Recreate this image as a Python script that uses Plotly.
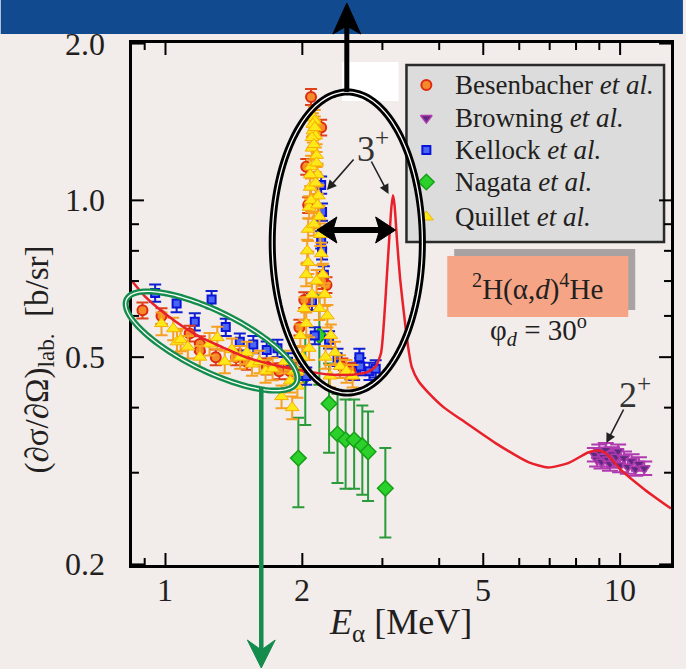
import math
import plotly.graph_objects as go

# ---------------- data ----------------
# Theory curve: E_alpha [MeV] vs lab cross section [b/sr]
curve_E = [0.844, 0.90, 1.00, 1.10, 1.20, 1.35, 1.50, 1.70, 1.90, 2.10, 2.30, 2.50,
           2.65, 2.78, 2.90, 2.98, 3.03, 3.07, 3.11, 3.14, 3.165, 3.19, 3.23, 3.28,
           3.345, 3.41, 3.48, 3.60, 3.79, 4.10, 4.48, 5.32, 6.30, 6.94, 7.69, 8.50,
           8.90, 9.25, 9.60, 10.03, 11.35, 12.94]
curve_xs = [0.70, 0.655, 0.605, 0.57, 0.545, 0.52, 0.50, 0.485, 0.475, 0.468, 0.463, 0.462,
            0.464, 0.468, 0.48, 0.51, 0.60, 0.72, 0.86, 0.97, 1.023, 0.98, 0.84, 0.71,
            0.608, 0.53, 0.479, 0.45, 0.427, 0.40, 0.379, 0.342, 0.314, 0.307, 0.313, 0.328,
            0.331, 0.328, 0.318, 0.304, 0.278, 0.256]

besen_E = [0.89, 0.98, 1.13, 1.19, 1.19, 1.29, 1.43, 1.51, 1.67, 1.78, 1.88,
           2.09, 2.20, 2.04, 2.06, 2.26, 2.02, 1.97, 2.21, 2.45, 2.55]
besen_xs = [0.615, 0.60, 0.555, 0.53, 0.515, 0.50, 0.50, 0.49, 0.48, 0.47, 0.47,
            1.58, 1.38, 1.16, 0.98, 0.688, 0.644, 0.57, 0.70, 0.48, 0.47]
besen_err_pct = 3.5

brown_E = [8.8, 8.9, 9.0, 9.1, 9.2, 9.3, 9.4, 9.5, 9.6, 9.7, 9.8, 9.9, 10.0, 10.2,
           10.4, 10.6, 10.8, 11.0, 11.3]
brown_xs = [0.325, 0.318, 0.330, 0.315, 0.322, 0.332, 0.318, 0.312, 0.326, 0.316, 0.322,
            0.330, 0.310, 0.320, 0.308, 0.316, 0.305, 0.312, 0.306]
brown_err_pct = 3.0

kell_E = [0.949, 1.058, 1.16, 1.263, 1.357, 1.457, 1.56, 1.67, 1.763, 1.86, 1.95,
          2.20, 2.21, 2.20, 2.21, 2.10, 2.23, 2.29, 2.39, 2.04, 2.13,
          2.60, 2.67, 2.68, 2.81, 2.90]
kell_xs = [0.664, 0.634, 0.585, 0.645, 0.571, 0.535, 0.529, 0.516, 0.52, 0.49, 0.47,
           1.07, 0.95, 0.84, 0.80, 0.64, 0.72, 0.54, 0.50, 0.46, 0.55,
           0.47, 0.50, 0.48, 0.47, 0.475]
kell_err_pct = 3.8

naga_E = [1.96, 2.03, 2.18, 2.29, 2.39, 2.49, 2.60, 2.71, 2.79, 3.045]
naga_xs = [0.32, 0.46, 0.55, 0.407, 0.356, 0.347, 0.347, 0.338, 0.329, 0.28]
naga_err_pct = 19.5

quil_E = [0.98, 1.04, 1.06, 1.08, 1.12, 1.19, 1.25, 1.30, 1.35, 1.40, 1.46, 1.51,
          1.55, 1.61, 1.66, 1.72, 1.80, 1.83, 1.88, 1.92, 1.95,
          2.02, 2.04, 2.05, 2.06, 2.07, 2.08, 2.09, 2.10, 2.11, 2.12,
          2.13, 2.14, 2.15, 2.16, 2.17, 2.18, 2.19, 2.20, 2.22, 2.24, 2.27, 2.31,
          2.36, 2.42, 2.50, 2.58,
          2.08, 2.10, 2.11, 2.13, 2.15, 2.09, 2.12, 2.06, 2.15, 2.10, 2.04, 2.18,
          1.98, 2.00, 2.07, 1.95, 2.12, 2.14, 2.16, 1.90, 2.25, 2.30]
quil_xs = [0.58, 0.567, 0.535, 0.54, 0.523, 0.50, 0.53, 0.545, 0.49, 0.517, 0.50, 0.51,
           0.485, 0.49, 0.47, 0.475, 0.42, 0.49, 0.45, 0.47, 0.44,
           0.62, 0.72, 0.80, 0.88, 0.97, 1.06, 1.16, 1.26, 1.36, 1.44,
           1.42, 1.33, 1.22, 1.12, 1.02, 0.93, 0.86, 0.79, 0.72, 0.66, 0.60, 0.55,
           0.51, 0.48, 0.47, 0.46,
           1.12, 1.32, 1.40, 1.38, 1.18, 1.00, 0.90, 0.76, 0.70, 0.66, 0.58, 0.62,
           0.55, 0.50, 0.52, 0.47, 1.28, 1.08, 0.98, 0.40, 0.50, 0.46]
quil_err_pct = 5.0

legend_names = ["Besenbacher", "Browning", "Kellock", "Nagata", "Quillet"]

x_ticks = [1, 2, 5, 10]
x_tick_text = ["1", "2", "5", "10"]
x_minor = [0.9, 3, 4, 6, 7, 8, 9]
y_ticks = [0.2, 0.5, 1.0, 2.0]
y_tick_text = ["0.2", "0.5", "1.0", "2.0"]
y_minor = [0.3, 0.4, 0.6, 0.7, 0.8, 0.9]

X_RANGE = [math.log10(0.844), math.log10(12.94)]
Y_RANGE = [math.log10(0.1995), math.log10(2.005)]

# ---------------- page geometry ----------------
W, H = 686, 669
L, R, T, B = 132, 674, 43, 565          # plot frame in pixels
BG = "#F2ECEB"
SERIF = "Liberation Serif"
INK = "#231F20"
MAJOR_LEN, MINOR_LEN = 12, 7


def fx(px):
    return (px - L) / (R - L)


def fy(py):
    return (B - py) / (B - T)


def data_x(px):
    return 10 ** (X_RANGE[0] + fx(px) * (X_RANGE[1] - X_RANGE[0]))


def data_y(py):
    return 10 ** (Y_RANGE[0] + fy(py) * (Y_RANGE[1] - Y_RANGE[0]))


def poly_path(pts):
    return "M " + " L ".join(f"{fx(x):.5f},{fy(y):.5f}" for x, y in pts) + " Z"


def ellipse_path(cx, cy, a, b, ang_deg, n=160):
    th = math.radians(ang_deg)
    pts = []
    for i in range(n):
        t = 2 * math.pi * i / n
        x = cx + a * math.cos(t) * math.cos(th) - b * math.sin(t) * math.sin(th)
        y = cy + a * math.cos(t) * math.sin(th) + b * math.sin(t) * math.cos(th)
        pts.append((x, y))
    return poly_path(pts)


fig = go.Figure()


def err(pct, color, w=5):
    return dict(type="percent", value=pct, color=color, thickness=2, width=w)


STY_BES = dict(symbol="circle", size=10, color="#F58A2A", line=dict(color="#DD2A10", width=2))
STY_BRO = dict(symbol="triangle-down", size=10, color="#5E2A7E", line=dict(color="#B03AB0", width=1.5))
STY_KEL = dict(symbol="square", size=8, color="#4A66F2", line=dict(color="#0A14D8", width=2))
STY_NAG = dict(symbol="diamond", size=12, color="#2BD02B", line=dict(color="#17A017", width=1.5))
STY_QUI = dict(symbol="triangle-up", size=12, color="#FFE81A", line=dict(color="#F5B000", width=1))

fig.add_trace(go.Scatter(x=naga_E, y=naga_xs, mode="markers", name="Nagata",
                         error_y=err(naga_err_pct, "#2A9A3A", 6), marker=STY_NAG))
fig.add_trace(go.Scatter(x=kell_E, y=kell_xs, mode="markers", name="Kellock",
                         error_y=err(kell_err_pct, "#1020D0", 6), marker=STY_KEL))
fig.add_trace(go.Scatter(x=besen_E, y=besen_xs, mode="markers", name="Besenbacher",
                         error_y=err(besen_err_pct, "#E0401A", 6), marker=STY_BES))
fig.add_trace(go.Scatter(x=brown_E, y=brown_xs, mode="markers", name="Browning",
                         error_y=err(brown_err_pct, "#B03AB0", 8), marker=STY_BRO))
fig.add_trace(go.Scatter(x=quil_E, y=quil_xs, mode="markers", name="Quillet",
                         error_y=err(quil_err_pct, "#F5A020", 6), marker=STY_QUI))
fig.add_trace(go.Scatter(x=curve_E, y=curve_xs, mode="lines", name="theory",
                         line=dict(color="#E8202A", width=2.5, shape="spline", smoothing=0.6)))

# tick marks on all four sides, drawn as short segments at the tick values
tick_x, tick_y = [], []
for vals, ln in [(x_ticks, MAJOR_LEN), (x_minor, MINOR_LEN)]:
    for v in vals:
        tick_x += [v, v, None, v, v, None]
        tick_y += [data_y(B), data_y(B - ln), None, data_y(T), data_y(T + ln), None]
for vals, ln in [(y_ticks, MAJOR_LEN), (y_minor, MINOR_LEN)]:
    for v in vals:
        tick_x += [data_x(L), data_x(L + ln), None, data_x(R), data_x(R - ln), None]
        tick_y += [v, v, None, v, v, None]
fig.add_trace(go.Scatter(x=tick_x, y=tick_y, mode="lines", hoverinfo="skip",
                         line=dict(color="black", width=2), cliponaxis=False))

# legend glyphs
leg_rows = [85, 118, 150, 182, 217]
leg_styles = [STY_BES, STY_BRO, STY_KEL, STY_NAG, STY_QUI]
for row, st in zip(leg_rows, leg_styles):
    fig.add_trace(go.Scatter(x=[data_x(428)], y=[data_y(row)], mode="markers", marker=st,
                             hoverinfo="skip"))

shapes = []
# top banner
shapes.append(dict(type="rect", xref="paper", yref="paper", x0=fx(0), x1=fx(W), y0=fy(34), y1=fy(-2),
                   fillcolor="#124A8F", line=dict(width=0), layer="above"))
# legend frame
shapes.append(dict(type="rect", xref="paper", yref="paper", x0=fx(408), x1=fx(667), y0=fy(242), y1=fy(65),
                   fillcolor="#DCDCDC", line=dict(color="#2A2A2A", width=2.5), layer="below"))
# reaction label box with its shadow
shapes.append(dict(type="rect", xref="paper", yref="paper", x0=fx(456), x1=fx(638), y0=fy(310), y1=fy(249),
                   fillcolor="#A9A2A2", line=dict(width=0), layer="below"))
shapes.append(dict(type="rect", xref="paper", yref="paper", x0=fx(449), x1=fx(631), y0=fy(317), y1=fy(256),
                   fillcolor="#F5A586", line=dict(width=0), layer="below"))
# white patch above the resonance
shapes.append(dict(type="rect", xref="paper", yref="paper", x0=fx(343), x1=fx(400), y0=fy(101), y1=fy(62),
                   fillcolor="white", line=dict(width=0), layer="above"))
# ellipses (double stroke)
e_black = ellipse_path(348.5, 242.5, 75.5, 150.5, 0)
e_green = ellipse_path(212, 341, 95, 30, 26)
for path, col, wd in [(e_black, "black", 7), (e_green, "#148C4C", 6)]:
    shapes.append(dict(type="path", xref="paper", yref="paper", path=path,
                       line=dict(color=col, width=wd), layer="above"))
    shapes.append(dict(type="path", xref="paper", yref="paper", path=path,
                       line=dict(color="white", width=1.3), layer="above"))
# black arrow upwards
shapes.append(dict(type="line", xref="paper", yref="paper", x0=fx(348), x1=fx(348), y0=fy(92), y1=fy(24),
                   line=dict(color="black", width=5), layer="above"))
shapes.append(dict(type="path", xref="paper", yref="paper",
                   path=poly_path([(348, 3), (362, 34), (348, 26), (334, 34)]),
                   fillcolor="black", line=dict(color="black", width=1), layer="above"))
# green arrow downwards
shapes.append(dict(type="line", xref="paper", yref="paper", x0=fx(262), x1=fx(262), y0=fy(388), y1=fy(650),
                   line=dict(color="#148C4C", width=4.5), layer="above"))
shapes.append(dict(type="path", xref="paper", yref="paper",
                   path=poly_path([(262, 668), (248, 640), (262, 650), (276, 640)]),
                   fillcolor="#148C4C", line=dict(color="#148C4C", width=1), layer="above"))
# double-headed arrow between resonance positions
shapes.append(dict(type="line", xref="paper", yref="paper", x0=fx(330), x1=fx(385), y0=fy(230), y1=fy(230),
                   line=dict(color="black", width=6), layer="above"))
shapes.append(dict(type="path", xref="paper", yref="paper",
                   path=poly_path([(318, 230), (338, 217), (334, 230), (338, 243)]),
                   fillcolor="black", line=dict(color="black", width=1), layer="above"))
shapes.append(dict(type="path", xref="paper", yref="paper",
                   path=poly_path([(397, 230), (377, 217), (381, 230), (377, 243)]),
                   fillcolor="black", line=dict(color="black", width=1), layer="above"))

ann = []
for row, nm in zip(leg_rows, legend_names):
    ann.append(dict(xref="paper", yref="paper", x=fx(455), y=fy(row), xanchor="left", yanchor="middle",
                    text=f"{nm} <i>et al.</i>", showarrow=False,
                    font=dict(family=SERIF, size=27, color=INK)))
ann.append(dict(xref="paper", yref="paper", x=fx(540), y=fy(287), xanchor="center", yanchor="middle",
                text="<sup>2</sup>H(α,<i>d</i>)<sup>4</sup>He", showarrow=False,
                font=dict(family=SERIF, size=29, color=INK)))
ann.append(dict(xref="paper", yref="paper", x=fx(541), y=fy(330), xanchor="center", yanchor="middle",
                text="φ<sub><i>d</i></sub> = 30<sup>o</sup>", showarrow=False,
                font=dict(family=SERIF, size=29, color=INK)))
ann.append(dict(xref="paper", yref="paper", x=fx(374), y=fy(146), xanchor="center", yanchor="middle",
                text="3<sup>+</sup>", showarrow=False, font=dict(family=SERIF, size=36, color="#333")))
ann.append(dict(xref="paper", yref="paper", x=fx(638), y=fy(392), xanchor="center", yanchor="middle",
                text="2<sup>+</sup>", showarrow=False, font=dict(family=SERIF, size=36, color="#333")))
# thin pointer arrows
for tip, tail in [((328, 190), (356, 158)), ((390, 194), (372, 160)), ((609, 443), (627, 408))]:
    ann.append(dict(xref="paper", yref="paper", x=fx(tip[0]), y=fy(tip[1]),
                    ax=tail[0] - tip[0], ay=tail[1] - tip[1], axref="pixel", ayref="pixel",
                    text="", showarrow=True, arrowhead=2, arrowsize=1.2, arrowwidth=1.6,
                    arrowcolor="#222"))
# tick labels placed against the log axes
for v, t in zip(x_ticks, x_tick_text):
    ann.append(dict(xref="x", yref="paper", x=math.log10(v), y=fy(590), xanchor="center",
                    yanchor="middle", text=t, showarrow=False,
                    font=dict(family=SERIF, size=32, color=INK)))
for v, t in zip(y_ticks, y_tick_text):
    ann.append(dict(xref="paper", yref="y", x=fx(107), y=math.log10(v), xanchor="right",
                    yanchor="middle", text=t, showarrow=False,
                    font=dict(family=SERIF, size=32, color=INK)))
# axis titles
ann.append(dict(xref="paper", yref="paper", x=fx(402), y=fy(624), xanchor="center", yanchor="middle",
                text="<i>E</i><sub>α</sub> [MeV]", showarrow=False,
                font=dict(family=SERIF, size=36, color=INK)))
ann.append(dict(xref="paper", yref="paper", x=fx(38), y=fy(360), xanchor="center", yanchor="middle",
                text="(∂σ/∂Ω)<sub>lab.</sub>  [b/sr]", textangle=-90, showarrow=False,
                font=dict(family=SERIF, size=33, color=INK)))

frame = dict(type="log", showline=True, linecolor="black", linewidth=2.5, mirror=True,
             ticks="", showgrid=False, zeroline=False, showticklabels=False)

fig.update_layout(
    width=W, height=H,
    margin=dict(l=L, r=W - R, t=T, b=H - B, pad=0),
    paper_bgcolor=BG, plot_bgcolor=BG,
    showlegend=False,
    xaxis=dict(frame, range=X_RANGE),
    yaxis=dict(frame, range=Y_RANGE),
    shapes=shapes, annotations=ann,
)

fig.write_html("out.html")
